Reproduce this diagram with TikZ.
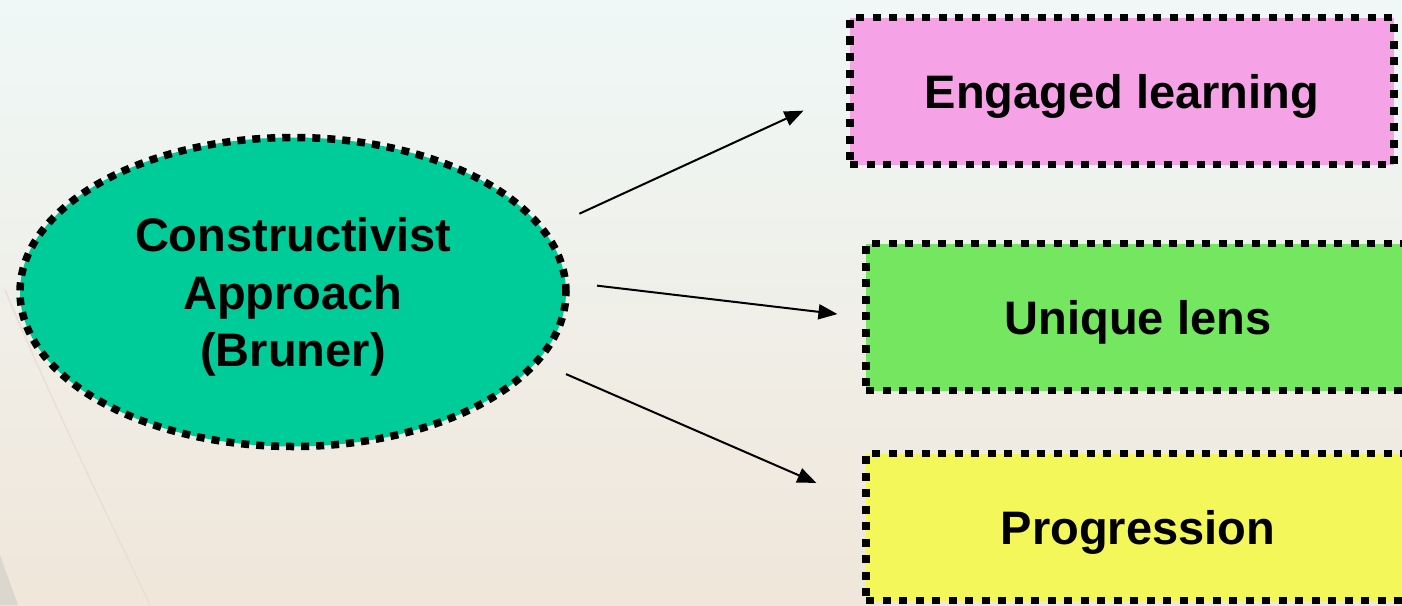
\documentclass[tikz,border=0pt]{standalone}
\usepackage{fontspec}
\setmainfont{Liberation Sans}
\usetikzlibrary{shapes.geometric,arrows.meta}

\definecolor{bgtop}{HTML}{EFF8F7}
\definecolor{bgmid}{HTML}{F3F1E9}
\definecolor{bgbottom}{HTML}{F0E6DA}
\definecolor{bgline}{HTML}{E9E0D4}
\definecolor{wedgegray}{HTML}{DAD8CE}
\definecolor{bubblegreen}{HTML}{00CC99}
\definecolor{engpink}{HTML}{F5A3E6}
\definecolor{lensgreen}{HTML}{74E660}
\definecolor{proyellow}{HTML}{F4F75A}

\begin{document}
\begin{tikzpicture}[x=1pt,y=-1pt,
    bubble/.style={ellipse,draw=black,fill=bubblegreen,line width=7.5pt,
        dash pattern=on 8pt off 7pt,minimum width=546pt,minimum height=309pt,
        inner sep=0pt,align=center,text depth=0pt,
        font=\fontsize{47}{57.5}\selectfont\bfseries},
    card/.style={rectangle,draw=black,line width=7.5pt,dash pattern=on 8pt off 8.5pt,
        minimum width=544pt,minimum height=147pt,inner sep=0pt,
        text height=34pt,text depth=0pt,
        font=\fontsize{47}{57}\selectfont\bfseries},
    link/.style={-{Triangle[length=19pt,width=15pt]},line width=2pt}]

    \useasboundingbox (0,0) rectangle (1402,605);
    \clip (0,0) rectangle (1402,605);

    %background
    \shade[top color=bgtop,middle color=bgmid,bottom color=bgbottom] (0,0) rectangle (1402,605);
    \draw[bgline,line width=1.5pt] (5,290) .. controls (60,420) and (110,520) .. (150,605);
    \fill[wedgegray] (0,555) -- (18,605) -- (0,605) -- cycle;

    \node[bubble] (appr) at (293,292) {Constructivist\\Approach\\ (Bruner)};

    \node[card,fill=engpink] (engaged) at (1122,91) {Engaged learning};
    \node[card,fill=lensgreen] (lens) at (1138,317) {Unique lens};
    \node[card,fill=proyellow] (progr) at (1138,527) {Progression};

    \draw[link,shorten <=36pt,shorten >=47pt] (appr.14.6) -- (engaged.west);
    \draw[link,shorten <=28pt,shorten >=25pt] (appr.2.7) -- (lens.west);
    \draw[link,shorten <=28pt,shorten >=50pt] (appr.-16.9) -- (progr.175.1);
\end{tikzpicture}
\end{document}
